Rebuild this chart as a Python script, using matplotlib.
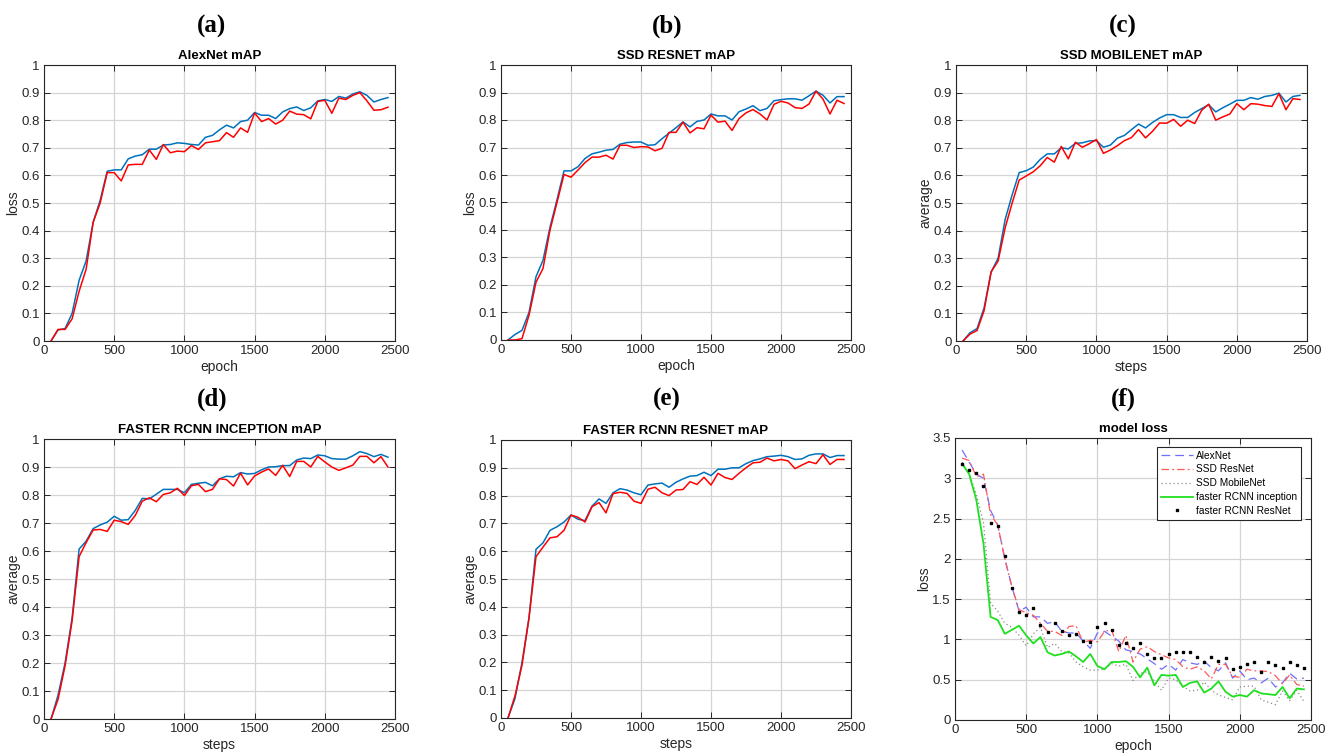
import matplotlib
matplotlib.use('Agg')
from matplotlib import pyplot as plt
from matplotlib.ticker import FormatStrFormatter

# x positions shared by all panels (every 50 steps)
steps = list(range(50, 2500, 50))

# (a) AlexNet mAP
alex_blue = [0, 0.04, 0.045, 0.1, 0.22, 0.29, 0.43, 0.51, 0.615, 0.62,
             0.62, 0.66, 0.67, 0.675, 0.695, 0.695, 0.71, 0.712, 0.718, 0.716,
             0.712, 0.71, 0.738, 0.745, 0.765, 0.782, 0.772, 0.795, 0.8, 0.828,
             0.818, 0.818, 0.806, 0.83, 0.842, 0.848, 0.835, 0.845, 0.87, 0.875,
             0.868, 0.886, 0.88, 0.895, 0.903, 0.89, 0.866, 0.875, 0.882]
alex_red = [0, 0.042, 0.042, 0.08, 0.18, 0.26, 0.43, 0.5, 0.61, 0.61,
            0.58, 0.638, 0.64, 0.64, 0.692, 0.658, 0.712, 0.682, 0.688, 0.686,
            0.708, 0.694, 0.718, 0.722, 0.726, 0.755, 0.738, 0.772, 0.756, 0.826,
            0.795, 0.806, 0.786, 0.8, 0.833, 0.822, 0.82, 0.805, 0.868, 0.872,
            0.825, 0.88, 0.875, 0.89, 0.9, 0.87, 0.836, 0.838, 0.847]

# (b) SSD RESNET mAP
ssdres_blue = [0, 0.02, 0.035, 0.1, 0.23, 0.29, 0.41, 0.51, 0.615, 0.615,
               0.63, 0.66, 0.677, 0.683, 0.69, 0.693, 0.712, 0.718, 0.72, 0.72,
               0.708, 0.71, 0.732, 0.752, 0.772, 0.793, 0.775, 0.795, 0.8, 0.822,
               0.815, 0.815, 0.8, 0.83, 0.84, 0.852, 0.834, 0.842, 0.87, 0.874,
               0.877, 0.877, 0.872, 0.888, 0.905, 0.89, 0.862, 0.885, 0.885]
ssdres_red = [0, 0, 0.005, 0.09, 0.21, 0.26, 0.4, 0.5, 0.602, 0.592,
              0.618, 0.645, 0.665, 0.665, 0.672, 0.658, 0.708, 0.708, 0.7, 0.703,
              0.702, 0.688, 0.697, 0.755, 0.755, 0.792, 0.753, 0.772, 0.768, 0.818,
              0.792, 0.796, 0.762, 0.805, 0.826, 0.838, 0.822, 0.8, 0.857, 0.868,
              0.862, 0.845, 0.842, 0.858, 0.905, 0.876, 0.822, 0.872, 0.86]

# (c) SSD MOBILENET mAP
ssdmob_blue = [0, 0.03, 0.045, 0.12, 0.25, 0.3, 0.44, 0.53, 0.61, 0.617,
               0.63, 0.658, 0.678, 0.678, 0.7, 0.696, 0.716, 0.718, 0.725, 0.726,
               0.702, 0.71, 0.735, 0.745, 0.766, 0.786, 0.772, 0.792, 0.808, 0.82,
               0.82, 0.81, 0.81, 0.828, 0.842, 0.856, 0.83, 0.845, 0.858, 0.872,
               0.872, 0.882, 0.876, 0.886, 0.89, 0.898, 0.866, 0.886, 0.89]
ssdmob_red = [0, 0.025, 0.038, 0.11, 0.25, 0.29, 0.41, 0.5, 0.583, 0.598,
              0.613, 0.635, 0.665, 0.648, 0.705, 0.66, 0.72, 0.702, 0.715, 0.73,
              0.68, 0.692, 0.708, 0.726, 0.737, 0.766, 0.736, 0.76, 0.79, 0.789,
              0.803, 0.778, 0.8, 0.788, 0.836, 0.858, 0.8, 0.812, 0.822, 0.86,
              0.838, 0.86, 0.858, 0.853, 0.85, 0.896, 0.838, 0.878, 0.875]

# (d) FASTER RCNN INCEPTION mAP
frcnn_inc_blue = [0, 0.085, 0.2, 0.36, 0.607, 0.635, 0.68, 0.693, 0.703, 0.724,
                  0.71, 0.712, 0.745, 0.788, 0.786, 0.803, 0.82, 0.82, 0.82, 0.808,
                  0.838, 0.842, 0.845, 0.833, 0.858, 0.867, 0.865, 0.88, 0.875, 0.877,
                  0.89, 0.9, 0.901, 0.905, 0.905, 0.925, 0.932, 0.93, 0.943, 0.94,
                  0.93, 0.928, 0.928, 0.94, 0.955, 0.948, 0.937, 0.945, 0.935]
frcnn_inc_red = [0, 0.07, 0.19, 0.35, 0.58, 0.63, 0.675, 0.677, 0.67, 0.71,
                 0.705, 0.695, 0.727, 0.778, 0.79, 0.776, 0.802, 0.808, 0.824, 0.798,
                 0.833, 0.838, 0.812, 0.82, 0.858, 0.855, 0.832, 0.878, 0.836, 0.868,
                 0.882, 0.893, 0.87, 0.906, 0.866, 0.92, 0.92, 0.9, 0.938, 0.918,
                 0.9, 0.888, 0.897, 0.907, 0.938, 0.938, 0.915, 0.937, 0.9]

# (e) FASTER RCNN RESNET mAP
frcnn_res_blue = [0, 0.07, 0.2, 0.36, 0.607, 0.63, 0.675, 0.688, 0.705, 0.73,
                  0.715, 0.71, 0.762, 0.788, 0.772, 0.81, 0.825, 0.82, 0.81, 0.803,
                  0.838, 0.842, 0.845, 0.83, 0.848, 0.86, 0.87, 0.872, 0.884, 0.872,
                  0.895, 0.895, 0.9, 0.9, 0.915, 0.926, 0.932, 0.94, 0.942, 0.945,
                  0.94, 0.93, 0.932, 0.945, 0.95, 0.95, 0.937, 0.944, 0.944]
frcnn_res_red = [0, 0.08, 0.19, 0.36, 0.58, 0.615, 0.648, 0.652, 0.675, 0.73,
                 0.722, 0.705, 0.76, 0.775, 0.738, 0.807, 0.812, 0.808, 0.78, 0.772,
                 0.823, 0.83, 0.81, 0.8, 0.82, 0.822, 0.85, 0.84, 0.866, 0.838,
                 0.88, 0.865, 0.858, 0.88, 0.9, 0.918, 0.92, 0.935, 0.925, 0.93,
                 0.925, 0.897, 0.91, 0.922, 0.915, 0.947, 0.912, 0.93, 0.93]

# (f) model loss
loss_alexnet = [3.35, 3.2, 3.05, 3.0, 2.6, 2.42, 2.0, 1.65, 1.35, 1.4,
                1.28, 1.28, 1.2, 1.22, 1.1, 1.08, 1.08, 0.98, 0.89, 1.08,
                1.1, 1.04, 0.98, 0.87, 0.85, 0.82, 0.76, 0.7, 0.63, 0.69,
                0.62, 0.75, 0.71, 0.69, 0.73, 0.65, 0.61, 0.71, 0.52, 0.61,
                0.5, 0.52, 0.46, 0.52, 0.41, 0.46, 0.58, 0.51, 0.52]
loss_ssd_resnet = [3.25, 3.22, 3.02, 3.05, 2.55, 2.42, 2.0, 1.65, 1.37, 1.33,
                   1.3, 1.2, 1.1, 1.1, 1.05, 1.16, 1.17, 0.96, 0.99, 0.97,
                   1.1, 1.12, 0.85, 1.05, 0.72, 0.88, 0.91, 0.85, 0.81, 0.77,
                   0.75, 0.66, 0.63, 0.66, 0.61, 0.51, 0.69, 0.69, 0.54, 0.53,
                   0.63, 0.61, 0.61, 0.6, 0.55, 0.45, 0.56, 0.44, 0.42]
loss_ssd_mobilenet = [3.2, 3.05, 2.8, 2.45, 1.45, 1.35, 1.2, 1.15, 1.05, 0.92,
                      1.07, 1.15, 0.9, 0.95, 0.85, 0.83, 0.72, 0.66, 0.62, 0.62,
                      0.63, 0.7, 0.67, 0.69, 0.49, 0.58, 0.6, 0.48, 0.37, 0.52,
                      0.5, 0.42, 0.36, 0.37, 0.47, 0.37, 0.31, 0.28, 0.25, 0.41,
                      0.42, 0.42, 0.25, 0.22, 0.19, 0.36, 0.24, 0.37, 0.23]
loss_frcnn_inception = [3.18, 3.05, 2.73, 2.19, 1.28, 1.24, 1.07, 1.12, 1.17, 1.05,
                        0.95, 1.03, 0.84, 0.8, 0.82, 0.85, 0.79, 0.72, 0.82, 0.67,
                        0.63, 0.72, 0.72, 0.73, 0.66, 0.53, 0.65, 0.43, 0.56, 0.55,
                        0.56, 0.41, 0.46, 0.48, 0.34, 0.39, 0.48, 0.35, 0.29, 0.31,
                        0.29, 0.37, 0.33, 0.32, 0.31, 0.41, 0.27, 0.39, 0.38]
loss_frcnn_resnet = [3.18, 3.1, 3.06, 2.9, 2.44, 2.41, 2.03, 1.64, 1.34, 1.3,
                     1.39, 1.18, 1.09, 1.21, 1.11, 1.05, 1.07, 0.98, 0.97, 1.15,
                     1.21, 1.12, 0.93, 0.95, 0.89, 0.95, 0.82, 0.77, 0.77, 0.82,
                     0.85, 0.85, 0.84, 0.78, 0.72, 0.78, 0.73, 0.77, 0.63, 0.66,
                     0.7, 0.72, 0.6, 0.72, 0.68, 0.65, 0.72, 0.68, 0.64]

W, H = 1332, 754
fig = plt.figure(figsize=(W / 100, H / 100), dpi=100)
plt.rcParams['font.family'] = 'Liberation Sans'

blue = '#0072BD'
red = '#FF0000'


def axes_at(x0, y_top, x1, y_bot):
    # pixel box -> figure fraction
    return fig.add_axes([x0 / W, 1 - y_bot / H, (x1 - x0) / W, (y_bot - y_top) / H])


def matlab_style(ax, ymax, ystep):
    ax.set_xlim(0, 2500)
    ax.set_ylim(0, ymax)
    ax.set_xticks(range(0, 2501, 500))
    n = int(round(ymax / ystep))
    ax.set_yticks([round(i * ystep, 2) for i in range(n + 1)])
    ax.yaxis.set_major_formatter(FormatStrFormatter('%g'))
    ax.tick_params(direction='in', length=4, width=0.7, top=True, right=True,
                   labelsize=9.5, colors='#262626', pad=3)
    ax.grid(True, color='#d4d4d4', linewidth=0.9)
    ax.set_axisbelow(True)
    for s in ax.spines.values():
        s.set_color('#262626')
        s.set_linewidth(0.8)


def map_panel(box, letter, title, xlabel, ylabel, b, r, lab_x, lab_y):
    ax = axes_at(*box)
    ax.plot(steps, b, color=blue, lw=1.1)
    ax.plot(steps, r, color=red, lw=1.1)
    matlab_style(ax, 1, 0.1)
    ax.set_title(title, fontsize=9.5, fontweight='bold', pad=4)
    ax.set_xlabel(xlabel, fontsize=10, color='#262626', labelpad=2)
    ax.set_ylabel(ylabel, fontsize=10, color='#262626', labelpad=1)
    fig.text(lab_x / W, 1 - lab_y / H, letter, ha='center', va='center',
             fontsize=18, fontweight='bold', family='Liberation Serif')
    return ax


map_panel((44, 65, 395, 341), '(a)', 'AlexNet mAP', 'epoch', 'loss',
          alex_blue, alex_red, 212, 26)
map_panel((501, 65, 851, 340), '(b)', 'SSD RESNET mAP', 'epoch', 'loss',
          ssdres_blue, ssdres_red, 667, 26)
map_panel((956, 65, 1307, 341), '(c)', 'SSD MOBILENET mAP', 'steps', 'average',
          ssdmob_blue, ssdmob_red, 1123, 26)
map_panel((44, 439, 395, 719), '(d)', 'FASTER RCNN INCEPTION mAP', 'steps', 'average',
          frcnn_inc_blue, frcnn_inc_red, 212, 399)
map_panel((501, 440, 851, 718), '(e)', 'FASTER RCNN RESNET mAP', 'steps', 'average',
          frcnn_res_blue, frcnn_res_red, 667, 399)

# (f) loss of all models
ax = axes_at(955, 438, 1311, 720)
ax.plot(steps, loss_alexnet, color='#6f6fff', lw=0.9, ls=(0, (7, 4)), label='AlexNet')
ax.plot(steps, loss_ssd_resnet, color='#ff5a5a', lw=0.9, ls=(0, (6, 2.5, 1.5, 2.5)),
        label='SSD ResNet')
ax.plot(steps, loss_ssd_mobilenet, color='#8a8a8a', lw=0.9, ls=(0, (1, 2.2)),
        label='SSD MobileNet')
ax.plot(steps, loss_frcnn_inception, color='#1fe01f', lw=1.3, label='faster RCNN inception')
ax.plot(steps, loss_frcnn_resnet, ls='none', marker='s', ms=1.5, color='black',
        label='faster RCNN ResNet')
matlab_style(ax, 3.5, 0.5)
ax.set_title('model loss', fontsize=9.5, fontweight='bold', pad=4)
ax.set_xlabel('epoch', fontsize=10, color='#262626', labelpad=2)
ax.set_ylabel('loss', fontsize=10, color='#262626', labelpad=1)
leg = ax.legend(loc='upper right', bbox_to_anchor=(0.972, 0.968), borderaxespad=0,
                fontsize=7.3, handlelength=3.2, handletextpad=0.3, labelspacing=0.38,
                borderpad=0.35, fancybox=False, framealpha=1)
leg.get_frame().set_edgecolor('#262626')
leg.get_frame().set_linewidth(0.8)
fig.text(1123 / W, 1 - 399 / H, '(f)', ha='center', va='center',
         fontsize=18, fontweight='bold', family='Liberation Serif')

plt.savefig('out.png', dpi=100)
